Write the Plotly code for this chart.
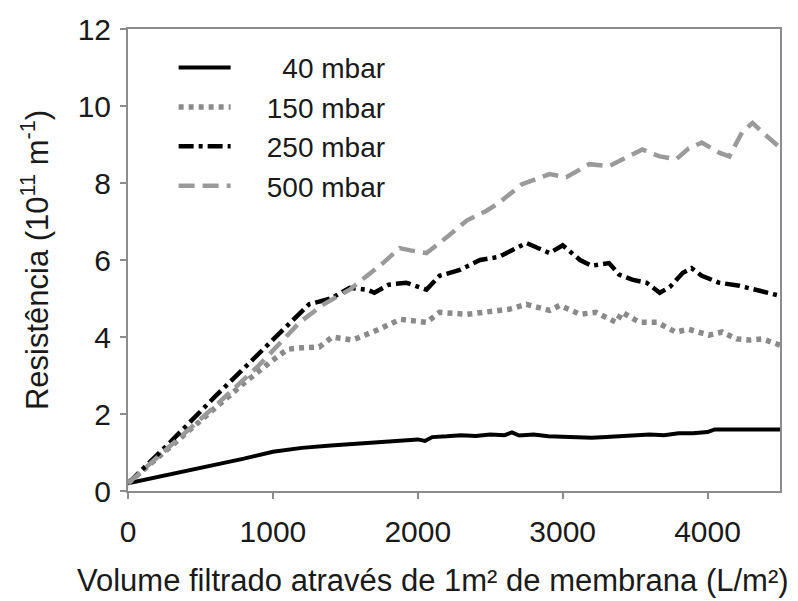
import plotly.graph_objects as go

# 40 mbar
x40 = [0, 200, 400, 600, 800, 1000, 1100, 1200, 1400, 1600, 1800, 2000, 2050, 2100, 2200, 2300, 2400,
       2500, 2600, 2650, 2700, 2800, 2900, 3000, 3100, 3200, 3300, 3400, 3500, 3600, 3700, 3800, 3900,
       4000, 4050, 4200, 4500]
y40 = [0.2, 0.36, 0.52, 0.66, 0.84, 1.02, 1.08, 1.12, 1.18, 1.24, 1.29, 1.34, 1.3, 1.4, 1.42, 1.45, 1.43,
       1.47, 1.45, 1.52, 1.44, 1.47, 1.42, 1.4, 1.38, 1.38, 1.4, 1.42, 1.45, 1.47, 1.45, 1.5, 1.5,
       1.53, 1.6, 1.6, 1.6]

# 150 mbar
x150 = [0, 200, 400, 600, 800, 1000, 1050, 1100, 1200, 1320, 1410, 1550, 1720, 1880, 2060, 2150, 2340,
        2480, 2630, 2750, 2910, 2980, 3120, 3230, 3370, 3410, 3530, 3650, 3780, 3870, 4010, 4100, 4200,
        4290, 4380, 4500]
y150 = [0.2, 0.85, 1.5, 2.15, 2.8, 3.4, 3.55, 3.68, 3.72, 3.74, 4.0, 3.92, 4.18, 4.46, 4.38, 4.64, 4.59,
        4.64, 4.72, 4.85, 4.69, 4.82, 4.59, 4.64, 4.38, 4.64, 4.38, 4.38, 4.13, 4.2, 4.05, 4.13, 3.95,
        3.92, 3.95, 3.79]

# 250 mbar
x250 = [0, 300, 600, 900, 1100, 1250, 1300, 1400, 1530, 1650, 1700, 1800, 1920, 2060, 2150, 2290, 2430,
        2560, 2750, 2910, 3000, 3120, 3200, 3320, 3390, 3480, 3580, 3670, 3740, 3830, 3890, 3960, 4080,
        4220, 4360, 4500]
y250 = [0.2, 1.3, 2.45, 3.55, 4.3, 4.85, 4.9, 5.0, 5.28, 5.23, 5.15, 5.36, 5.41, 5.23, 5.59, 5.74, 6.0,
        6.08, 6.44, 6.18, 6.38, 6.0, 5.85, 5.92, 5.62, 5.49, 5.41, 5.15, 5.3, 5.67, 5.79, 5.59, 5.41,
        5.33, 5.2, 5.07]

# 500 mbar
x500 = [0, 300, 600, 900, 1185, 1350, 1530, 1760, 1875, 1950, 2060, 2170, 2340, 2475, 2565, 2720, 2910,
        3025, 3185, 3320, 3440, 3550, 3670, 3785, 3870, 3960, 4080, 4150, 4240, 4310, 4420, 4500]
y500 = [0.2, 1.2, 2.2, 3.25, 4.38, 4.85, 5.23, 5.92, 6.31, 6.25, 6.18, 6.5, 7.03, 7.28, 7.5, 7.97, 8.23,
        8.15, 8.49, 8.44, 8.67, 8.87, 8.69, 8.62, 8.9, 9.05, 8.79, 8.69, 9.33, 9.56, 9.18, 8.92]

NB = "\u00a0"
series_names = [NB * 6 + "40 mbar", NB * 4 + "150 mbar", NB * 4 + "250 mbar", NB * 4 + "500 mbar"]
x_ticks = [0, 1000, 2000, 3000, 4000]
y_ticks = [0, 2, 4, 6, 8, 10, 12]

FONT = "Liberation Sans, Arial, sans-serif"
AX = "#8c8c8c"

fig = go.Figure()
styles = [
    dict(color="#000000", width=4, dash="solid"),
    dict(color="#8a8a8a", width=5.5, dash="5px,5px"),
    dict(color="#000000", width=4.5, dash="15px,5px,4px,5px"),
    dict(color="#9a9a9a", width=4.5, dash="16px,8px"),
]
for xs, ys, nm, st, g in zip([x40, x150, x250, x500], [y40, y150, y250, y500], series_names, styles, "abcd"):
    fig.add_trace(go.Scatter(x=xs, y=ys, mode="lines", name=nm, line=st, legendgroup=g))

fig.update_layout(
    width=798, height=601,
    margin=dict(l=128, r=18, t=23, b=110),
    paper_bgcolor="white", plot_bgcolor="white",
    font=dict(family=FONT, size=30, color="#1a1a1a"),
    showlegend=True,
    legend=dict(x=0.07, y=0.97, xanchor="left", yanchor="top", bgcolor="rgba(0,0,0,0)",
                font=dict(size=28), itemwidth=52, tracegroupgap=0, traceorder="normal"),
    xaxis=dict(range=[0, 4500], tickvals=x_ticks, showgrid=False, zeroline=False,
               showline=True, linecolor=AX, linewidth=2, mirror=True,
               ticks="outside", ticklen=6, tickcolor=AX, tickwidth=2,
               ticklabelstandoff=7, tickfont=dict(size=30)),
    yaxis=dict(range=[0, 12], tickvals=y_ticks, showgrid=False, zeroline=False,
               showline=True, linecolor=AX, linewidth=2, mirror=True,
               ticks="outside", ticklen=6, tickcolor=AX, tickwidth=2,
               ticklabelstandoff=3, tickfont=dict(size=30),
               title=dict(text="Resistência (10<sup>11</sup> m<sup>-1</sup>)", font=dict(size=31), standoff=20)),
)
fig.add_annotation(text="Volume filtrado através de 1m² de membrana (L/m²)", xref="paper", yref="paper",
                   x=0.468, y=-0.152, xanchor="center", yanchor="top", showarrow=False,
                   font=dict(size=31, family=FONT, color="#1a1a1a"))

fig.write_html("out.html")
